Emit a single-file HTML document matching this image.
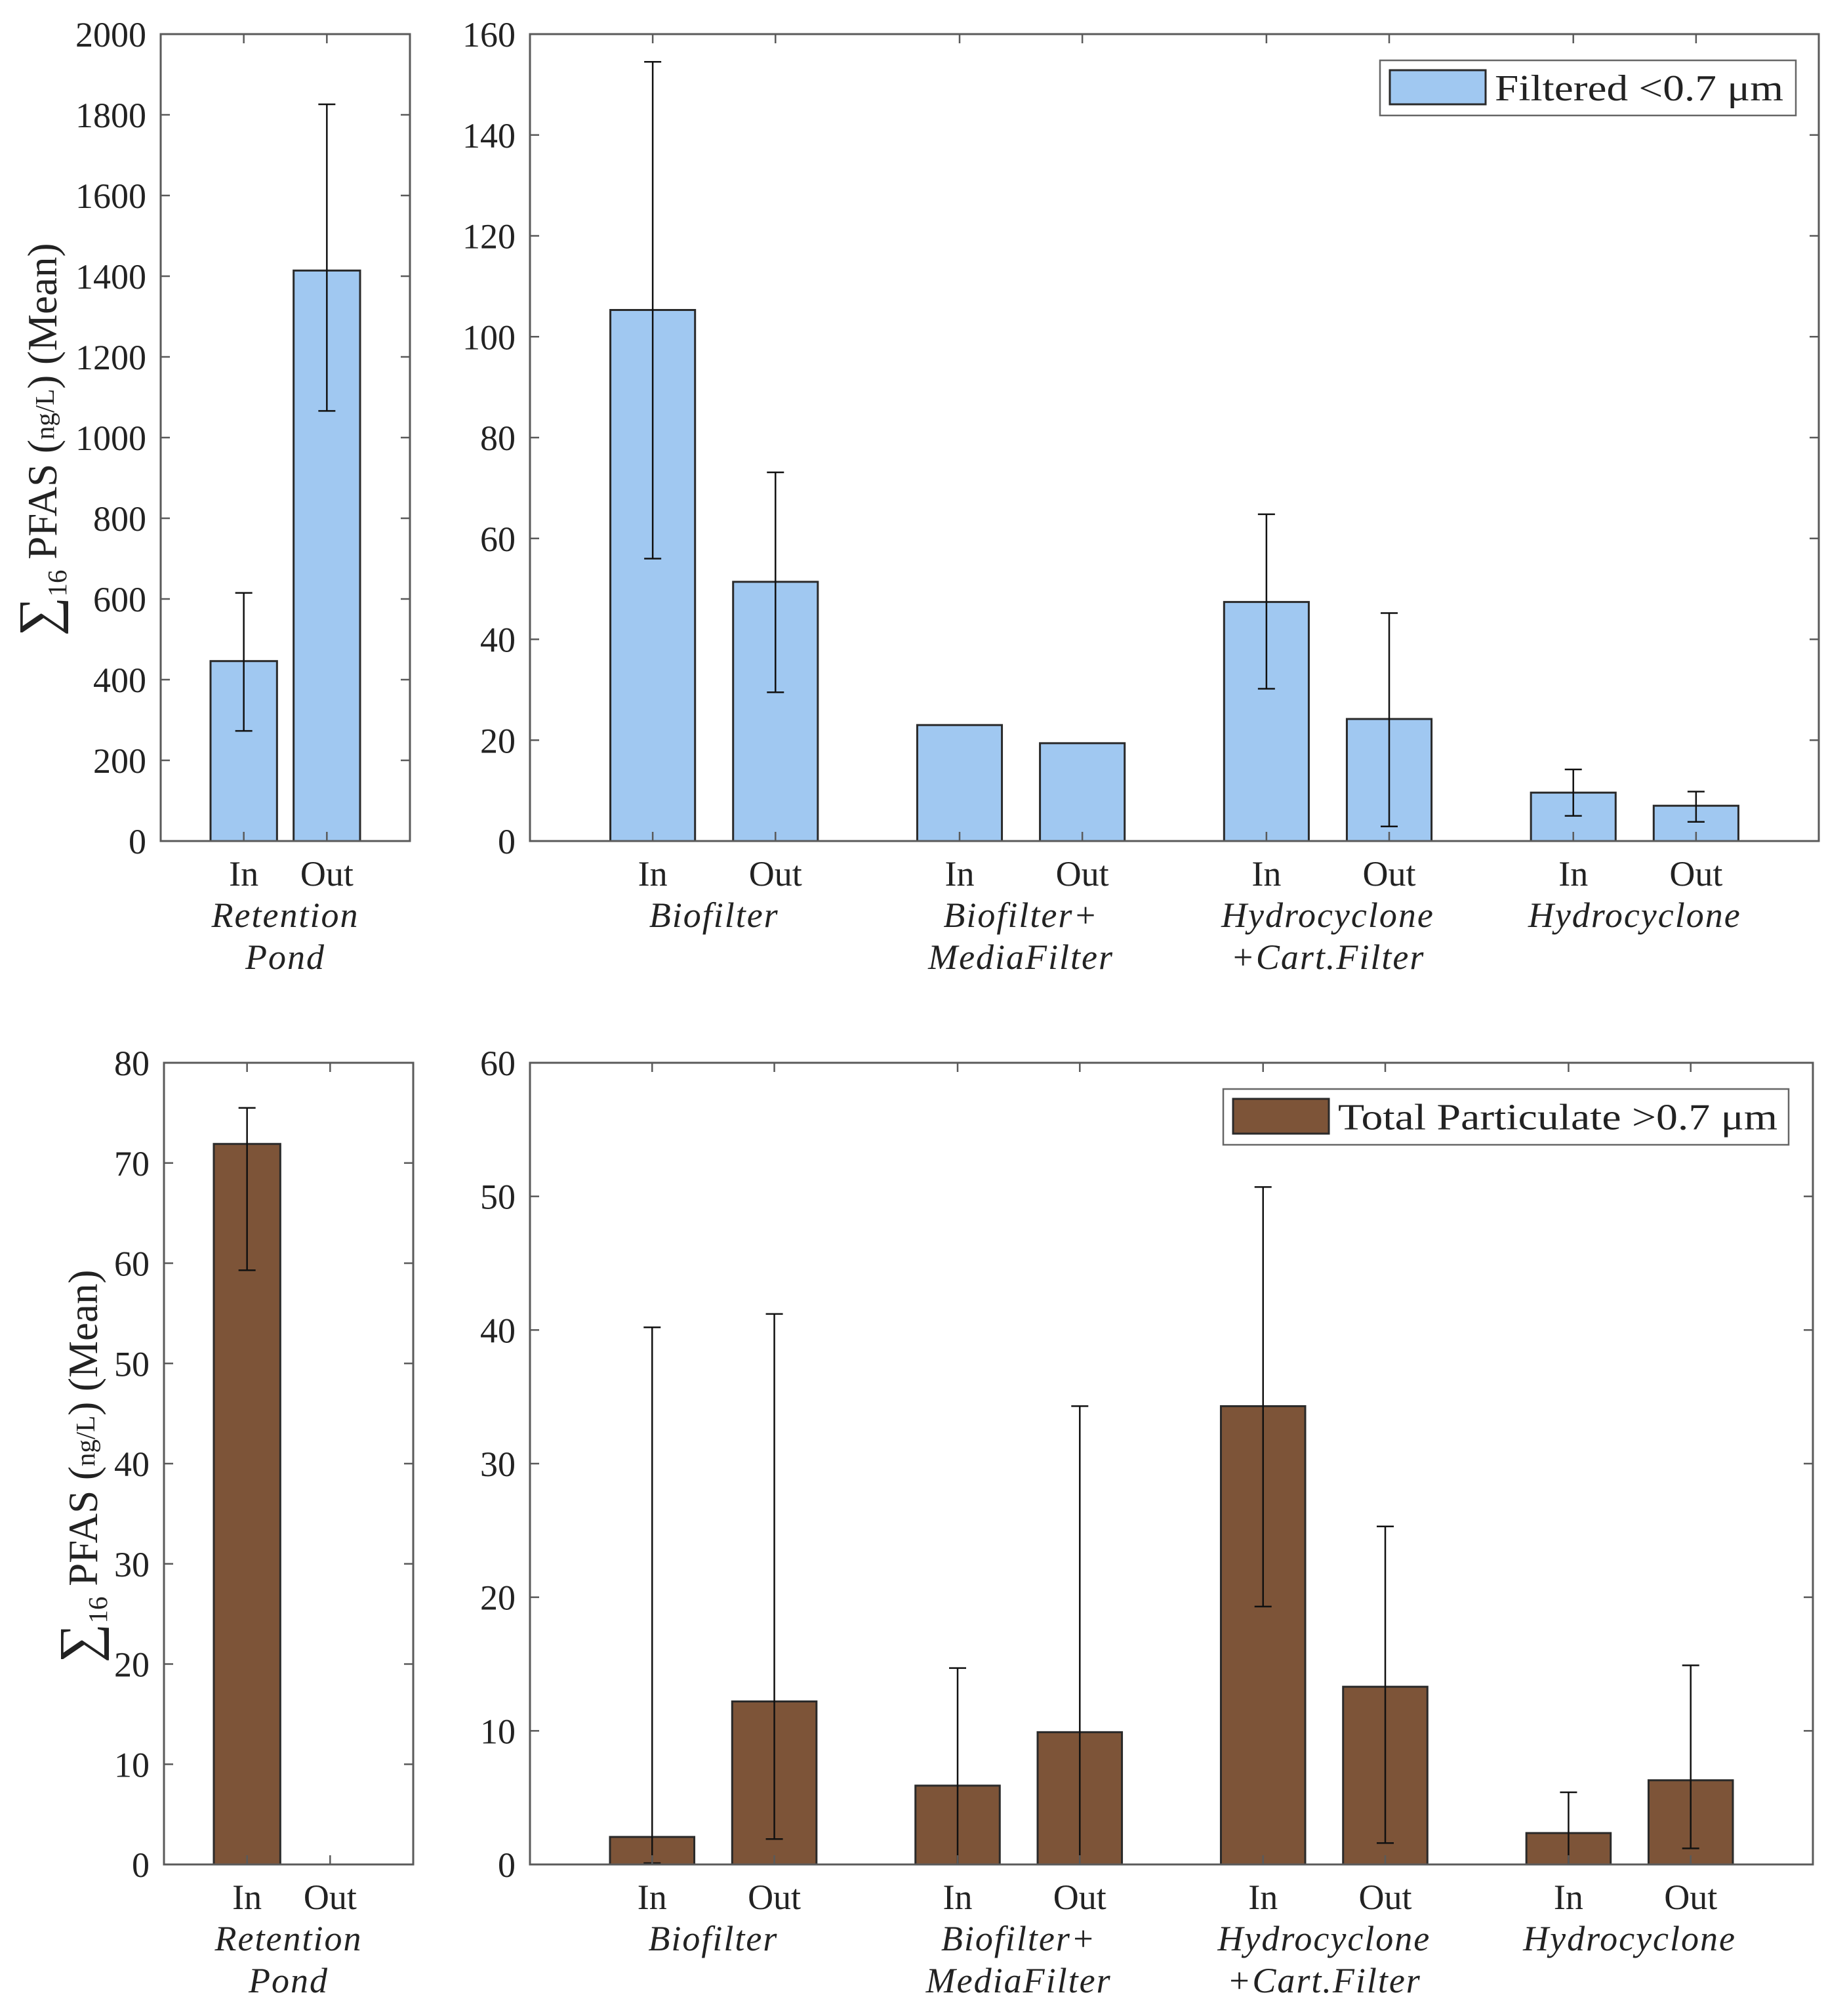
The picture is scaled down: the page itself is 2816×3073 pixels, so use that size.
<!DOCTYPE html>
<html><head><meta charset="utf-8"><style>
html,body{margin:0;padding:0;background:#fff;}
svg{display:block;}
text{font-family:"Liberation Serif",serif;fill:#222;}
</style></head><body>
<svg id="fig" width="2816" height="3073" viewBox="0 0 2816 3073" xmlns="http://www.w3.org/2000/svg"></svg>
<script>
// ---- data ----
const groupNames = [["Biofilter"],["Biofilter+","MediaFilter"],["Hydrocyclone","+Cart.Filter"],["Hydrocyclone"]];
const pondName = ["Retention","Pond"];
const barLabels = ["In","Out"];
const rightPositions = [1,2,3.5,4.5,6,7,8.5,9.5];

const tlTicks = [0,200,400,600,800,1000,1200,1400,1600,1800,2000];
const tlValues = [446,1414];
const tlLow = [273,1066];
const tlHigh = [615,1826];

const trTicks = [0,20,40,60,80,100,120,140,160];
const trValues = [105.3,51.4,23.0,19.4,47.4,24.2,9.6,7.0];
const trLow = [56,29.5,null,null,30.2,2.9,5.0,3.8];
const trHigh = [154.5,73.1,null,null,64.8,45.2,14.2,9.8];

const blTicks = [0,10,20,30,40,50,60,70,80];
const blValues = [71.9,0];
const blLow = [59.3,null];
const blHigh = [75.5,null];

const brTicks = [0,10,20,30,40,50,60];
const brValues = [2.06,12.2,5.9,9.9,34.3,13.3,2.35,6.3];
const brLow = [0.1,1.9,0,0,19.3,1.6,0,1.2];
const brHigh = [40.2,41.2,14.7,34.3,50.7,25.3,5.4,14.9];

const NS="http://www.w3.org/2000/svg";
const svg=document.getElementById('fig');
function mk(tag,attrs,parent){const e=document.createElementNS(NS,tag);for(const k in attrs)e.setAttribute(k,attrs[k]);(parent||svg).appendChild(e);return e;}

function panel(o){
  const g=mk('g',{});
  
  
  const X=v=>o.x0+(v-o.xmin)/(o.xmax-o.xmin)*(o.x1-o.x0);
  const Y=v=>o.y1-(v-o.ticks[0])/(o.ticks[o.ticks.length-1]-o.ticks[0])*(o.y1-o.y0);
  o.values.forEach((v,i)=>{
    const cx=X(o.pos[i]),hw=o.bw/2*(o.x1-o.x0)/(o.xmax-o.xmin);
    if(v>0){
      const r=mk('rect',{x:cx-hw,y:Y(v),width:2*hw,height:Y(0)-Y(v),fill:o.fill,stroke:'#2a2a2a','stroke-width':3},g);
      
      
    } else {
      mk('line',{x1:cx-hw,x2:cx+hw,y1:Y(0),y2:Y(0),stroke:'#2a2a2a','stroke-width':3},g);
    }
    if(o.low[i]!=null){
      const eg=mk('g',{stroke:'#111','stroke-width':2.5},g);
      
      
      mk('line',{x1:cx,x2:cx,y1:Y(o.low[i]),y2:Y(o.high[i])},eg);
      mk('line',{x1:cx-13,x2:cx+13,y1:Y(o.low[i]),y2:Y(o.low[i])},eg);
      mk('line',{x1:cx-13,x2:cx+13,y1:Y(o.high[i]),y2:Y(o.high[i])},eg);
    }
  });
  const box=mk('rect',{x:o.x0,y:o.y0,width:o.x1-o.x0,height:o.y1-o.y0,fill:'none',stroke:'#5a5a5a','stroke-width':3},g);
  
  
  o.ticks.forEach(t=>{
    const y=Y(t);
    mk('line',{x1:o.x0,x2:o.x0+14,y1:y,y2:y,stroke:'#5a5a5a','stroke-width':2.5},g);
    mk('line',{x1:o.x1-14,x2:o.x1,y1:y,y2:y,stroke:'#5a5a5a','stroke-width':2.5},g);
    const tx=mk('text',{x:o.x0-22,y:y+19,'text-anchor':'end','font-size':54},g);
    tx.textContent=t;
    
    
  });
  o.pos.forEach((p,i)=>{
    const x=X(p);
    mk('line',{x1:x,x2:x,y1:o.y1,y2:o.y1-14,stroke:'#5a5a5a','stroke-width':2.5},g);
    mk('line',{x1:x,x2:x,y1:o.y0,y2:o.y0+14,stroke:'#5a5a5a','stroke-width':2.5},g);
    const tx=mk('text',{x:x,y:o.y1+68,'text-anchor':'middle','font-size':54},g);
    tx.textContent=barLabels[i%2];
    
    
  });
  o.groups.forEach((lines,gi)=>{
    const cx=(X(o.pos[2*gi])+X(o.pos[2*gi+1]))/2;
    lines.forEach((s,li)=>{
      const tx=mk('text',{x:cx,y:o.y1+131+li*64,'text-anchor':'middle','font-size':54,'font-style':'italic','letter-spacing':2},g);
      tx.textContent=s;
      
      
    });
  });
  return g;
}

panel({name:'top-left-panel',x0:245,x1:625,y0:52,y1:1282,xmin:0,xmax:3,bw:0.8,pos:[1,2],ticks:tlTicks,values:tlValues,low:tlLow,high:tlHigh,fill:'#a0c8f1',groups:[pondName]});
panel({name:'top-right-panel',x0:808,x1:2773,y0:52,y1:1282,xmin:0,xmax:10.5,bw:0.69,pos:rightPositions,ticks:trTicks,values:trValues,low:trLow,high:trHigh,fill:'#a0c8f1',groups:groupNames});
panel({name:'bottom-left-panel',x0:250,x1:630,y0:1620,y1:2842,xmin:0,xmax:3,bw:0.8,pos:[1,2],ticks:blTicks,values:blValues,low:blLow,high:blHigh,fill:'#7d5438',groups:[pondName]});
panel({name:'bottom-right-panel',x0:808,x1:2764,y0:1620,y1:2842,xmin:0,xmax:10.5,bw:0.69,pos:rightPositions,ticks:brTicks,values:brValues,low:brLow,high:brHigh,fill:'#7d5438',groups:groupNames});

function legend(name,x,y,w,h,fill,label,tw){
  const g=mk('g',{});
  
  
  mk('rect',{x:x,y:y,width:w,height:h,fill:'#fff',stroke:'#666','stroke-width':2.5},g);
  mk('rect',{x:x+15,y:y+15,width:146,height:h-32,fill:fill,stroke:'#2a2a2a','stroke-width':3},g);
  const t=mk('text',{x:x+175,y:y+h/2+19,'font-size':56,textLength:tw,lengthAdjust:'spacingAndGlyphs'},g);
  t.textContent=label;
  
  
}
legend('legend-filtered',2104,92,634,84,'#a0c8f1','Filtered <0.7 μm',440);
legend('legend-particulate',1865,1660,862,85,'#7d5438','Total Particulate >0.7 μm',670);

function ylabel(name,cx,cy){
  const t=mk('text',{x:0,y:0,'text-anchor':'middle','font-size':63,transform:`translate(${cx},${cy}) rotate(-90)`});
  
  
  t.innerHTML='<tspan font-size="84">∑</tspan><tspan font-size="41" dy="15">16</tspan><tspan dy="-15"> PFAS (</tspan><tspan font-size="41" dy="-4">ng/L</tspan><tspan dy="4">) (Mean)</tspan>';
}
ylabel('y-axis-title-top',86,670);
ylabel('y-axis-title-bottom',148,2235);
</script>
</body></html>
